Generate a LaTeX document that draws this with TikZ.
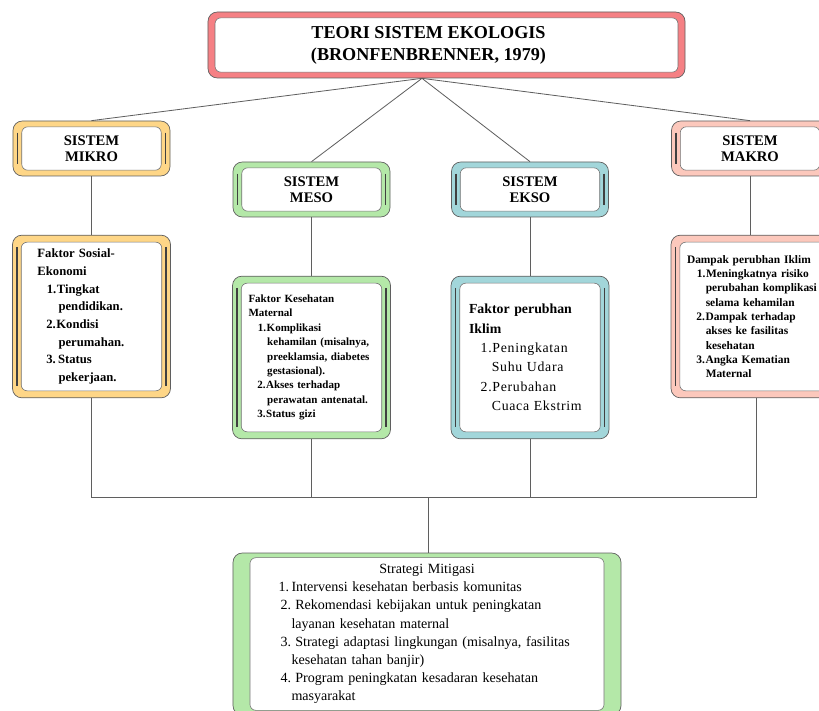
\documentclass[tikz,border=0pt]{standalone}
\usepackage{fontspec}
\setmainfont{Liberation Serif}
\newfontfamily\spaced[LetterSpace=5]{Liberation Serif}
\usepackage{tikz}
\usetikzlibrary{positioning}

\definecolor{titlered}{RGB}{245,128,132}
\definecolor{mikroyel}{RGB}{254,214,135}
\definecolor{mesogreen}{RGB}{180,232,168}
\definecolor{eksoteal}{RGB}{162,214,218}
\definecolor{makropink}{RGB}{252,200,188}
\definecolor{linegray}{RGB}{95,95,95}

\begin{document}
\begin{tikzpicture}[
    x=0.03cm, y=-0.03cm,
    node distance=5.04cm,
    panel/.style n args={3}{draw=linegray, fill=#1, rounded corners=8pt, line width=0.6pt,
        path picture={
            \draw[draw=black!55, fill=white, rounded corners=5pt, line width=0.5pt]
                ([shift={(#2,-#3)}]path picture bounding box.north west) rectangle
                ([shift={(-#2,#3)}]path picture bounding box.south east);
        }},
    barpanel/.style n args={3}{draw=linegray, fill=#1, rounded corners=8pt, line width=0.6pt,
        path picture={
            \draw[draw=black!55, fill=white, rounded corners=5pt, line width=0.5pt]
                ([shift={(#2,-#3)}]path picture bounding box.north west) rectangle
                ([shift={(-#2,#3)}]path picture bounding box.south east);
            \draw[black!75, line width=1.5pt]
                ([shift={(#2/2,-10pt)}]path picture bounding box.north west) --
                ([shift={(#2/2,10pt)}]path picture bounding box.south west);
            \draw[black!75, line width=1.5pt]
                ([shift={(-#2/2,-10pt)}]path picture bounding box.north east) --
                ([shift={(-#2/2,10pt)}]path picture bounding box.south east);
        }},
    head/.style={barpanel={#1}{7.5pt}{5pt}, minimum width=4.71cm, minimum height=1.65cm,
        align=center, font=\fontsize{12.5}{13.6}\selectfont\bfseries},
    card/.style={barpanel={#1}{7.5pt}{6pt}, minimum width=4.74cm, minimum height=4.88cm, align=left},
    link/.style={draw=linegray, line width=0.7pt}
]
    \useasboundingbox (0,0) rectangle (819,711);

    \node[panel={titlered}{6pt}{5pt}, minimum width=14.31cm, minimum height=1.98cm, align=center,
        font=\fontsize{15.5}{18.7}\selectfont\bfseries] (teori) at (446.5,45)
        {TEORI SISTEM EKOLOGIS\hspace*{1.08cm}\\(BRONFENBRENNER, 1979)\hspace*{1.08cm}};

    \node[head=mikroyel] (mikrohead) at (91.5,148.5) {SISTEM\\MIKRO};
    \node[head=mesogreen] (mesohead) at (311.5,189.5) {SISTEM\\MESO};
    \node[head=eksoteal] (eksohead) at (530,189.5) {SISTEM\\EKSO};
    \node[head=makropink] (makrohead) at (750,148.5) {SISTEM\\MAKRO};

    \node[card=mikroyel, below of=mikrohead, text width=3.24cm,
        font=\fontsize{10.8}{15.1}\selectfont\bfseries] (mikro)
        {Faktor Sosial-\\Ekonomi\\
         \hspace*{8pt}1.\hspace{0.5pt}Tingkat\\\hspace*{18pt}pendidikan.\\
         \hspace*{7.5pt}2.\hspace{0.5pt}Kondisi\\\hspace*{18pt}perumahan.\\
         \hspace*{7.5pt}3.\hspace{2pt}Status\\\hspace*{18pt}pekerjaan.};
    \node[card=mesogreen, below of=mesohead, text width=3.78cm,
        font=\fontsize{9.4}{12.3}\selectfont\bfseries] (meso)
        {Faktor Kesehatan\\Maternal\\
         \hspace*{8pt}1.\hspace{0.5pt}Komplikasi\\\hspace*{16pt}kehamilan (misalnya,\\
         \hspace*{16pt}preeklamsia, diabetes\\\hspace*{16pt}gestasional).\\
         \hspace*{7.5pt}2.\hspace{0.5pt}Akses terhadap\\\hspace*{16pt}perawatan antenatal.\\
         \hspace*{7.5pt}3.\hspace{0.5pt}Status gizi};
    \node[card=eksoteal, below of=eksohead, text width=3.66cm,
        font=\fontsize{11.8}{16.6}\selectfont] (ekso)
        {\textbf{Faktor perubhan}\\\textbf{Iklim}\\
         \hspace*{10pt}{\spaced 1.Peningkatan}\\\hspace*{19.5pt}{\spaced Suhu Udara}\\
         \hspace*{10pt}{\spaced 2.Perubahan}\\\hspace*{19.5pt}{\spaced Cuaca Ekstrim}};
    \node[card=makropink, below of=makrohead, xshift=0.18cm, minimum width=5.1cm, text width=4.14cm,
        font=\fontsize{9.75}{12.2}\selectfont\bfseries] (makro)
        {Dampak perubhan Iklim\\
         \hspace*{8.5pt}1.\hspace{0.5pt}Meningkatnya risiko\\\hspace*{16pt}perubahan komplikasi\\
         \hspace*{16pt}selama kehamilan\\
         \hspace*{8pt}2.\hspace{0.5pt}Dampak terhadap\\\hspace*{16pt}akses ke fasilitas\\
         \hspace*{16pt}kesehatan\\
         \hspace*{8pt}3.\hspace{0.5pt}Angka Kematian\\\hspace*{16pt}Maternal};

    \node[panel={mesogreen}{14.5pt}{4pt}, minimum width=11.64cm, minimum height=4.86cm,
        text width=8.9cm, align=left, font=\fontsize{12}{15.5}\selectfont] (mitigasi) at (427,634)
        {\hspace*{86pt}Strategi Mitigasi\\
         1.\hspace{2pt}Intervensi kesehatan berbasis komunitas\\
         \hspace*{1.7pt}2.\hspace{3.5pt}Rekomendasi kebijakan untuk peningkatan\\
         \hspace*{11pt}layanan kesehatan maternal\\
         \hspace*{1.7pt}3.\hspace{3.5pt}Strategi adaptasi lingkungan (misalnya, fasilitas\\
         \hspace*{11pt}kesehatan tahan banjir)\\
         \hspace*{1.7pt}4.\hspace{3.5pt}Program peningkatan kesadaran kesehatan\\
         \hspace*{11pt}masyarakat};

    \coordinate (apex) at ([xshift=-0.735cm]teori.south);
    \coordinate (hub) at (428,497);

    \draw[link] (apex) -- (mikrohead.north);
    \draw[link] (apex) -- (mesohead.north);
    \draw[link] (apex) -- (eksohead.north);
    \draw[link] (apex) -- (makrohead.north);

    \draw[link] (mikrohead.south) -- (mikro.north);
    \draw[link] (mesohead.south) -- (meso.north);
    \draw[link] (eksohead.south) -- (ekso.north);
    \draw[link] (makrohead.south) -- (makrohead.south |- makro.north);

    \draw[link] (mikro.south) -- (mikro.south |- hub) -- (makro.south |- hub) -- (makro.south);
    \draw[link] (meso.south) -- (meso.south |- hub);
    \draw[link] (ekso.south) -- (ekso.south |- hub);
    \draw[link] (hub) -- (hub |- mitigasi.north);
\end{tikzpicture}
\end{document}
